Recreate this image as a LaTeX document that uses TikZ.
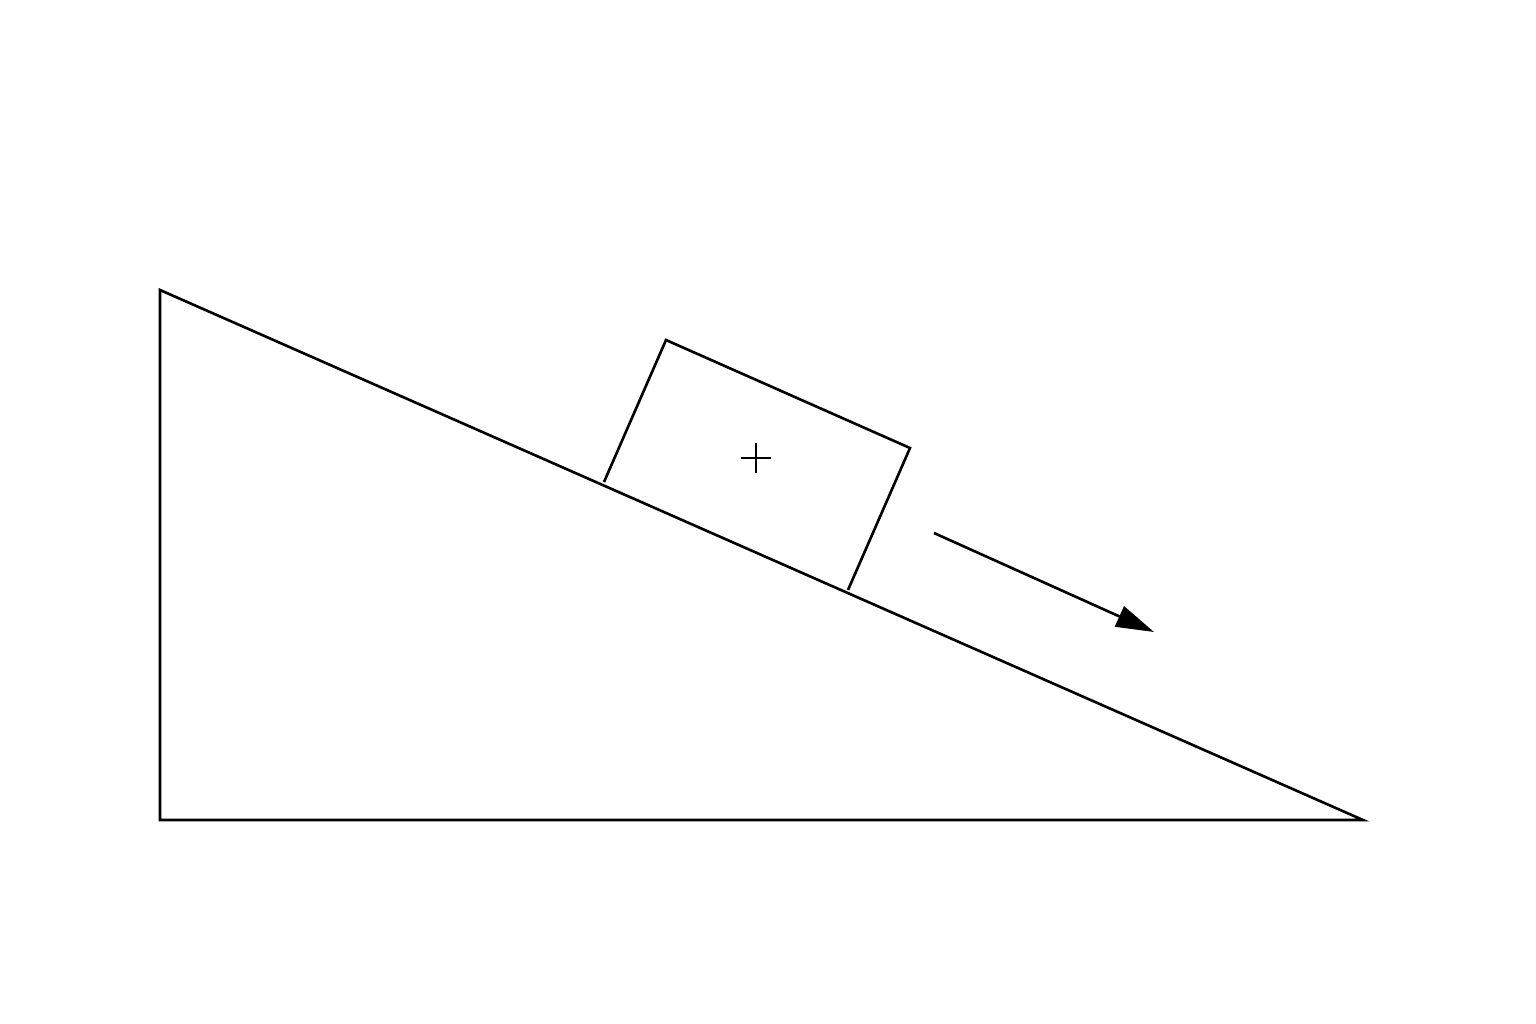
\documentclass[tikz,border=0pt]{standalone}
\usetikzlibrary{arrows.meta}
\begin{document}
\begin{tikzpicture}[x=0.02cm,y=-0.02cm,
  edge/.style={line width=1.5pt,line join=miter},
  thin edge/.style={line width=1.2pt},
  motion/.style={line width=1.5pt,-{Triangle[length=0.76cm,width=0.44cm]}}]
\useasboundingbox (0,0) rectangle (1536,1024);
% incline
\coordinate (top) at (160,290);
\coordinate (corner) at (160,820);
\coordinate (toe) at (1363,820);
\draw[edge] (top) -- (corner) -- (toe) -- cycle;
% block
\coordinate (b1) at (604,482);
\coordinate (b2) at (666,340);
\coordinate (b3) at (910,448);
\coordinate (b4) at (848,590);
\draw[edge] (b1) -- (b2) -- (b3) -- (b4);
% centre mark
\coordinate (c) at (756,458);
\draw[thin edge] ([xshift=-15*0.02cm]c) -- ([xshift=15*0.02cm]c);
\draw[thin edge] ([yshift=15*0.02cm]c) -- ([yshift=-15*0.02cm]c);
% motion arrow
\coordinate (a1) at (934,533);
\coordinate (a2) at (1154,632);
\draw[motion] (a1) -- (a2);
\end{tikzpicture}
\end{document}
